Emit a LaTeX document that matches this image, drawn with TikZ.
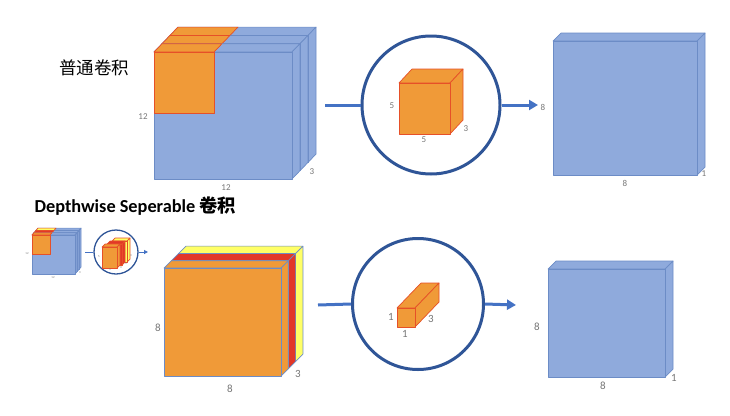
\documentclass[tikz,border=0pt]{standalone}
\usepackage{fontspec}
\setmainfont{Carlito}
\newfontfamily\cjk{Noto Sans CJK SC}
\usepackage{tikz}
\usetikzlibrary{arrows.meta,positioning}

\definecolor{cubeblue}{RGB}{143,170,220}
\definecolor{cubeedge}{RGB}{108,140,198}
\definecolor{kernelfill}{RGB}{240,154,56}
\definecolor{kerneledge}{RGB}{230,80,40}
\definecolor{slabred}{RGB}{226,56,40}
\definecolor{slabyellow}{RGB}{255,255,102}
\definecolor{ringblue}{RGB}{47,85,151}
\definecolor{flowblue}{RGB}{68,114,196}
\definecolor{dimgray}{RGB}{118,118,118}

% box faces: x, y, width/height, dx, dy, style
\newcommand{\cubetop}[6]{\filldraw[#6] (#1,#2) -- ++(#4,-#5) -- ++(#3,0) -- ++(-#4,#5) -- cycle;}
\newcommand{\cuberight}[6]{\filldraw[#6] (#1,#2) -- ++(#4,-#5) -- ++(0,#3) -- ++(-#4,#5) -- cycle;}
\newcommand{\drawcube}[7]{%
  \cubetop{#1}{#2}{#3}{#5}{#6}{#7}
  \cuberight{#1+#3}{#2}{#4}{#5}{#6}{#7}
  \filldraw[#7] (#1,#2) rectangle ++(#3,#4);}

\begin{document}
\begin{tikzpicture}[
    x=1pt, y=-1pt,
    bluebox/.style={fill=cubeblue, draw=cubeedge, line width=0.7pt, line join=round},
    kernel/.style={fill=kernelfill, draw=kerneledge, line width=0.7pt, line join=round},
    orangeslab/.style={fill=kernelfill, draw=cubeedge, line width=0.7pt, line join=round},
    redslab/.style={fill=slabred, draw=cubeedge, line width=0.7pt, line join=round},
    yellowslab/.style={fill=slabyellow, draw=cubeedge, line width=0.7pt, line join=round},
    ring/.style={circle, draw=ringblue, line width=3pt, inner sep=0pt},
    flow/.style={draw=flowblue, line width=3pt},
    dim/.style={text=dimgray, inner sep=0pt, font=\fontsize{9}{10}\selectfont},
    dimL/.style={text=dimgray, inner sep=0pt, font=\fontsize{11}{12}\selectfont},
    tiny/.style={text=dimgray, inner sep=0pt, font=\fontsize{3}{3}\selectfont}
]
  \useasboundingbox (0,0) rectangle (730,415);

  % Standard convolution
  \node[font=\cjk\fontsize{17.5}{19}\selectfont] (stdtitle) at (94,68) {普通卷积};
  \foreach \k in {2,1,0} {
    \drawcube{154+8*\k}{52-8.3*\k}{138}{127}{8}{8.3}{bluebox}
    \cubetop{154+8*\k}{52-8.3*\k}{60}{8}{8.3}{kernel}
  }
  \filldraw[kernel] (154,52) rectangle ++(60,61);
  \node[dim] (stdh) at (143,117) {12};
  \node[dim] (stdw) at (226,188) {12};
  \node[dim] (stdd) at (312,172) {3};

  \node[ring, minimum size=138pt] (convring) at (431,105) {};
  \drawcube{399}{83}{51}{51}{13}{14}{kernel}
  \node[dim] (kh) at (392,106) {5};
  \node[dim] (kw) at (424,140) {5};
  \node[dim] (kd) at (466,129) {3};

  \drawcube{553}{41}{144}{134}{8}{8}{bluebox}
  \node[dim] (outh) at (543,107) {8};
  \node[dim] (outw) at (625,183) {8};
  \node[dim] (outd) at (704,174) {1};

  \coordinate (stdin) at (325,105);
  \coordinate (stdout) at (538,105);
  \draw[flow] (stdin) -- (convring.west);
  \draw[flow, -{Triangle[length=9pt, width=10pt]}] (convring.east) -- (stdout);

  % Depthwise separable convolution
  \node[anchor=west, font=\bfseries\fontsize{18.3}{20}\selectfont] (dwtitle) at (31,206) {Depthwise Seperable {\cjk 卷积}};

  % mini overview
  \foreach \k/\c in {2/slabyellow,1/slabred,0/kernelfill} {
    \drawcube{32+2*\k}{235-2.3*\k}{43}{39}{2}{2.3}{bluebox}
    \cubetop{32+2*\k}{235-2.3*\k}{18}{2}{2.3}{kernel, fill=\c}
  }
  \filldraw[kernel] (32,235) rectangle ++(18,19);
  \node[tiny] (minih) at (27,254) {12};
  \node[tiny] (miniw) at (53,278) {12};
  \node[tiny] (minid) at (80,273) {3};
  \node[ring, line width=1.3pt, minimum size=44pt] (miniring) at (116,252) {};
  \drawcube{112}{241}{15}{21}{3}{3}{kernel, fill=slabyellow}
  \drawcube{107}{244}{15}{21}{3}{3}{kernel, fill=slabred}
  \drawcube{102}{247}{15}{21}{3}{3}{kernel}
  \node[tiny] (minikh) at (99,257) {5};
  \node[tiny] (minikw) at (110,270) {5};
  \node[tiny] (minikd1) at (121,268) {3};
  \node[tiny] (minikd2) at (126,264) {3};
  \node[tiny] (minikd3) at (131,256) {3};
  \coordinate (miniin) at (85,252);
  \coordinate (miniout) at (148,252);
  \draw[flow, line width=1pt] (miniin) -- (miniring.west);
  \draw[flow, line width=1pt, -{Triangle[length=4pt, width=4pt]}] (miniring.east) -- (miniout);

  % input channels
  \drawcube{178.6}{253.4}{117}{108}{7.3}{7.3}{yellowslab}
  \drawcube{171.3}{260.7}{117}{108}{7.3}{7.3}{redslab}
  \drawcube{164}{268}{117}{108}{7.3}{7.3}{orangeslab}
  \node[dimL] (dwh) at (158,328) {8};
  \node[dimL] (dww) at (230,389) {8};
  \node[dimL] (dwd) at (298,374) {3};

  \node[ring, minimum size=131pt] (dwring) at (418,304) {};
  \drawcube{397}{308}{18}{19}{24}{25}{kernel}
  \node[dimL] (bh) at (391,317) {1};
  \node[dimL] (bw) at (405,334) {1};
  \node[dimL] (bd) at (431,319) {3};

  \drawcube{548}{269}{117}{108}{8}{8}{bluebox}
  \node[dimL] (dwouth) at (537,327) {8};
  \node[dimL] (dwoutw) at (603,386) {8};
  \node[dimL] (dwoutd) at (674,378) {1};

  \coordinate (dwin) at (318,305);
  \coordinate (dwout) at (516,305);
  \draw[flow] (dwin) -- (dwring.west);
  \draw[flow, -{Triangle[length=9pt, width=10pt]}] (dwring.east) -- (dwout);
\end{tikzpicture}
\end{document}
